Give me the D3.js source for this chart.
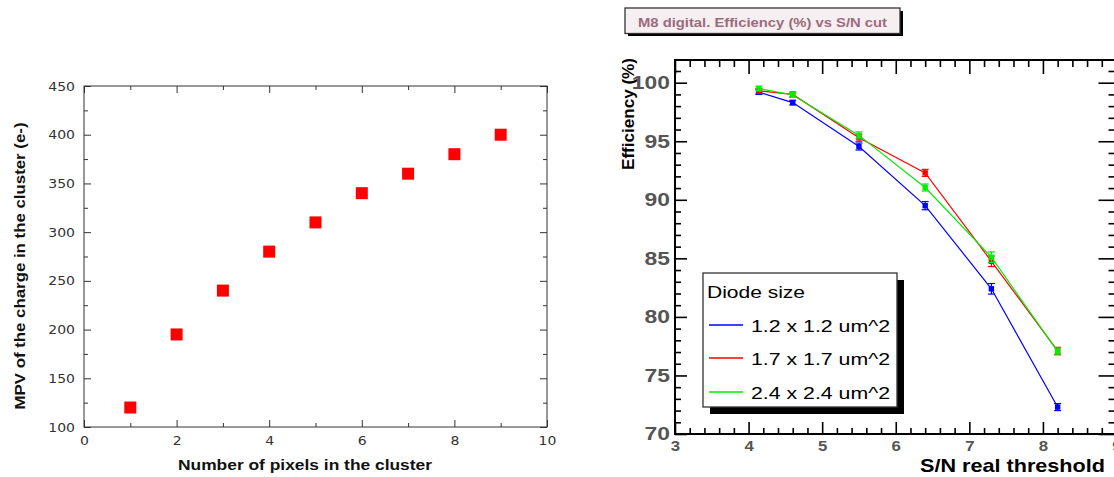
<!DOCTYPE html>
<html>
<head>
<meta charset="utf-8">
<script src="https://cdn.jsdelivr.net/npm/d3@7"></script>
<style>
  html, body { margin: 0; padding: 0; background: #fff; }
  svg { display: block; }
</style>
</head>
<body>
<svg id="chart" width="1114" height="477"></svg>
<script>
// ---------- Left chart data ----------
const pixelsInCluster = [1, 2, 3, 4, 5, 6, 7, 8, 9];
const mpvCharge = [120, 195, 240, 280, 310, 340, 360, 380, 400];
const leftXTicks = [0, 2, 4, 6, 8, 10];
const leftYTicks = [100, 150, 200, 250, 300, 350, 400, 450];
const leftXTitle = "Number of pixels in the cluster";
const leftYTitle = "MPV of the charge in the cluster (e-)";

// ---------- Right chart data ----------
const snThreshold = [4.14, 4.6, 5.5, 6.4, 7.3, 8.2];
const eff12 = [99.2, 98.3, 94.55, 89.5, 82.4, 72.3];
const eff17 = [99.3, 99.0, 95.3, 92.3, 84.75, 77.1];
const eff24 = [99.5, 98.95, 95.5, 91.05, 85.1, 77.05];
const err12 = [0.2, 0.2, 0.3, 0.35, 0.45, 0.3];
const err17 = [0.2, 0.2, 0.3, 0.3, 0.45, 0.3];
const err24 = [0.2, 0.2, 0.3, 0.3, 0.45, 0.3];
const seriesLabels = ["1.2 x 1.2 um^2", "1.7 x 1.7 um^2", "2.4 x 2.4 um^2"];
const seriesColors = ["#0000ff", "#ff0000", "#00ee00"];
const rightXTicks = [3, 4, 5, 6, 7, 8, 9];
const rightYTicks = [70, 75, 80, 85, 90, 95, 100];
const rightTitle = "M8 digital. Efficiency (%) vs S/N cut";
const rightXTitle = "S/N real threshold";
const rightYTitle = "Efficiency (%)";
const legendTitle = "Diode size";

const svg = d3.select("#chart");

function stretch(sel, factor) {
  sel.each(function () {
    const w = this.getComputedTextLength();
    d3.select(this).attr("textLength", w * factor).attr("lengthAdjust", "spacingAndGlyphs");
  });
}

// ================= LEFT CHART =================
(function () {
  const L = 84, R = 547, T = 86, B = 427;
  const x = d3.scaleLinear().domain([0, 10]).range([L, R]);
  const y = d3.scaleLinear().domain([100, 450]).range([B, T]);
  const g = svg.append("g");
  const font = "'DejaVu Sans', sans-serif";

  const minorX = d3.range(1, 10, 2);
  const minorY = d3.range(125, 450, 50);

  function ax(axis, transform, labels) {
    const a = g.append("g").attr("transform", transform).call(axis);
    a.select(".domain").remove();
    a.selectAll("line").attr("stroke", "#333");
    a.selectAll("text").attr("font-family", font).attr("font-size", 12.5).attr("fill", "#333");
    if (labels) stretch(a.selectAll("text"), 1.12);
    return a;
  }
  ax(d3.axisBottom(x).tickValues(leftXTicks).tickSize(-7).tickPadding(9).tickFormat(d3.format("d")), `translate(0,${B})`, true);
  ax(d3.axisBottom(x).tickValues(minorX).tickSize(-4).tickFormat(""), `translate(0,${B})`);
  ax(d3.axisTop(x).tickValues(leftXTicks).tickSize(-7).tickFormat(""), `translate(0,${T})`);
  ax(d3.axisTop(x).tickValues(minorX).tickSize(-4).tickFormat(""), `translate(0,${T})`);
  ax(d3.axisLeft(y).tickValues(leftYTicks).tickSize(-7).tickPadding(9).tickFormat(d3.format("d")), `translate(${L},0)`, true);
  ax(d3.axisLeft(y).tickValues(minorY).tickSize(-4).tickFormat(""), `translate(${L},0)`);
  ax(d3.axisRight(y).tickValues(leftYTicks).tickSize(-7).tickFormat(""), `translate(${R},0)`);
  ax(d3.axisRight(y).tickValues(minorY).tickSize(-4).tickFormat(""), `translate(${R},0)`);

  g.append("rect").attr("x", L).attr("y", T).attr("width", R - L).attr("height", B - T)
    .attr("fill", "none").attr("stroke", "#333").attr("stroke-width", 1);

  const ms = 12;
  g.selectAll("rect.pt").data(pixelsInCluster).join("rect").attr("class", "pt")
    .attr("x", d => x(d) - ms / 2)
    .attr("y", (d, i) => y(mpvCharge[i]) - ms / 2)
    .attr("width", ms).attr("height", ms)
    .attr("fill", "#ff0000");

  g.append("text").attr("x", 305).attr("y", 470).attr("text-anchor", "middle")
    .attr("font-family", "'Liberation Sans', Arial, sans-serif").attr("font-weight", "bold")
    .attr("font-size", 15).attr("fill", "#111").attr("textLength", 254).attr("lengthAdjust", "spacingAndGlyphs")
    .text(leftXTitle);
  g.append("text").attr("transform", "translate(25,266) rotate(-90)").attr("text-anchor", "middle")
    .attr("font-family", "'Liberation Sans', Arial, sans-serif").attr("font-weight", "bold")
    .attr("font-size", 15).attr("fill", "#111").attr("textLength", 287).attr("lengthAdjust", "spacingAndGlyphs")
    .text(leftYTitle);
})();

// ================= RIGHT CHART =================
(function () {
  const L = 675, R = 1116.5, B = 434, T = 60;
  const x = d3.scaleLinear().domain([3, 9]).range([L, R]);
  const y = d3.scaleLinear().domain([70, 100]).range([B, 82.7]);
  const g = svg.append("g");
  const font = "'Liberation Sans', Arial, sans-serif";

  const minorX = d3.range(3, 9.01, 0.2).filter(v => Math.abs(v - Math.round(v)) > 1e-6);
  const minorY = d3.range(71, 101.5, 1).filter(v => v % 5 !== 0);

  function ax(axis, transform) {
    const a = g.append("g").attr("transform", transform).call(axis);
    a.select(".domain").remove();
    a.selectAll("line").attr("stroke", "#000").attr("stroke-width", 1.6);
    return a;
  }
  const yl = ax(d3.axisLeft(y).tickValues(rightYTicks).tickSize(-12).tickPadding(5).tickFormat(d3.format("d")), `translate(${L},0)`);
  yl.selectAll("text").attr("font-family", font).attr("font-weight", "bold").attr("font-size", 18).attr("fill", "#555");
  stretch(yl.selectAll("text"), 1.27);
  ax(d3.axisLeft(y).tickValues(minorY).tickSize(-6).tickFormat(""), `translate(${L},0)`);
  const xl = ax(d3.axisBottom(x).tickValues(rightXTicks).tickSize(-12).tickPadding(6).tickFormat(d3.format("d")), `translate(0,${B})`);
  xl.selectAll("text").attr("font-family", font).attr("font-weight", "bold").attr("font-size", 15).attr("fill", "#555");
  stretch(xl.selectAll("text"), 1.12);
  ax(d3.axisBottom(x).tickValues(minorX).tickSize(-6).tickFormat(""), `translate(0,${B})`);
  ax(d3.axisTop(x).tickValues(rightXTicks).tickSize(-14).tickFormat(""), `translate(0,${T})`);
  ax(d3.axisTop(x).tickValues(minorX).tickSize(-7).tickFormat(""), `translate(0,${T})`);
  ax(d3.axisRight(y).tickValues(rightYTicks).tickSize(-18).tickFormat(""), `translate(${R},0)`);
  ax(d3.axisRight(y).tickValues(minorY).tickSize(-8).tickFormat(""), `translate(${R},0)`);

  g.append("rect").attr("x", L).attr("y", T).attr("width", R - L).attr("height", B - T)
    .attr("fill", "none").attr("stroke", "#000").attr("stroke-width", 2);

  // Series
  const series = [
    { vals: eff12, errs: err12, color: seriesColors[0] },
    { vals: eff17, errs: err17, color: seriesColors[1] },
    { vals: eff24, errs: err24, color: seriesColors[2] }
  ];
  const line = d3.line().x(d => x(d[0])).y(d => y(d[1]));
  series.forEach(s => {
    const pts = snThreshold.map((sx, i) => [sx, s.vals[i], s.errs[i]]);
    const sg = g.append("g");
    sg.append("path").attr("d", line(pts)).attr("fill", "none").attr("stroke", s.color).attr("stroke-width", 1.2);
    pts.forEach(p => {
      const cx = x(p[0]), y1 = y(p[1] + p[2]), y2 = y(p[1] - p[2]);
      sg.append("line").attr("x1", cx).attr("x2", cx).attr("y1", y1).attr("y2", y2).attr("stroke", s.color).attr("stroke-width", 1.2);
      sg.append("line").attr("x1", cx - 3.5).attr("x2", cx + 3.5).attr("y1", y1).attr("y2", y1).attr("stroke", s.color).attr("stroke-width", 1.2);
      sg.append("line").attr("x1", cx - 3.5).attr("x2", cx + 3.5).attr("y1", y2).attr("y2", y2).attr("stroke", s.color).attr("stroke-width", 1.2);
      sg.append("rect").attr("x", cx - 2.7).attr("y", y(p[1]) - 2.7).attr("width", 5.4).attr("height", 5.4).attr("fill", s.color);
    });
  });

  // Axis titles
  g.append("text").attr("x", 1105).attr("y", 472).attr("text-anchor", "end")
    .attr("font-family", font).attr("font-weight", "bold").attr("font-size", 19).attr("fill", "#000")
    .attr("textLength", 185).attr("lengthAdjust", "spacingAndGlyphs").text(rightXTitle);
  g.append("text").attr("transform", "translate(634,58) rotate(-90)").attr("text-anchor", "end")
    .attr("font-family", font).attr("font-weight", "bold").attr("font-size", 16).attr("fill", "#000")
    .attr("textLength", 112).attr("lengthAdjust", "spacingAndGlyphs").text(rightYTitle);

  // Title box
  g.append("rect").attr("x", 628).attr("y", 11).attr("width", 275).attr("height", 25).attr("fill", "#000");
  g.append("rect").attr("x", 625).attr("y", 8).attr("width", 275).attr("height", 25.5)
    .attr("fill", "#f6eff1").attr("stroke", "#333").attr("stroke-width", 1.3);
  g.append("text").attr("x", 762.5).attr("y", 26.5).attr("text-anchor", "middle")
    .attr("font-family", font).attr("font-weight", "bold").attr("font-size", 13.5).attr("fill", "#9b6b7d")
    .attr("textLength", 249).attr("lengthAdjust", "spacingAndGlyphs").text(rightTitle);

  // Legend
  const lx = 703, ly = 273, lw = 194, lh = 134;
  g.append("rect").attr("x", lx + 7).attr("y", ly + 7).attr("width", lw).attr("height", lh).attr("fill", "#000");
  g.append("rect").attr("x", lx).attr("y", ly).attr("width", lw).attr("height", lh)
    .attr("fill", "#fff").attr("stroke", "#333").attr("stroke-width", 1.3);
  g.append("text").attr("x", lx + 4).attr("y", 297.5).attr("font-family", font).attr("font-size", 16)
    .attr("fill", "#000").attr("textLength", 98).attr("lengthAdjust", "spacingAndGlyphs").text(legendTitle);
  const rowY = [325, 358, 392];
  seriesLabels.forEach((lab, i) => {
    g.append("line").attr("x1", 709).attr("x2", 743).attr("y1", rowY[i]).attr("y2", rowY[i])
      .attr("stroke", seriesColors[i]).attr("stroke-width", 1.3);
    g.append("text").attr("x", 751).attr("y", rowY[i] + 6.5).attr("font-family", font).attr("font-size", 17)
      .attr("fill", "#000").attr("textLength", 139).attr("lengthAdjust", "spacingAndGlyphs").text(lab);
  });
})();
</script>
</body>
</html>
